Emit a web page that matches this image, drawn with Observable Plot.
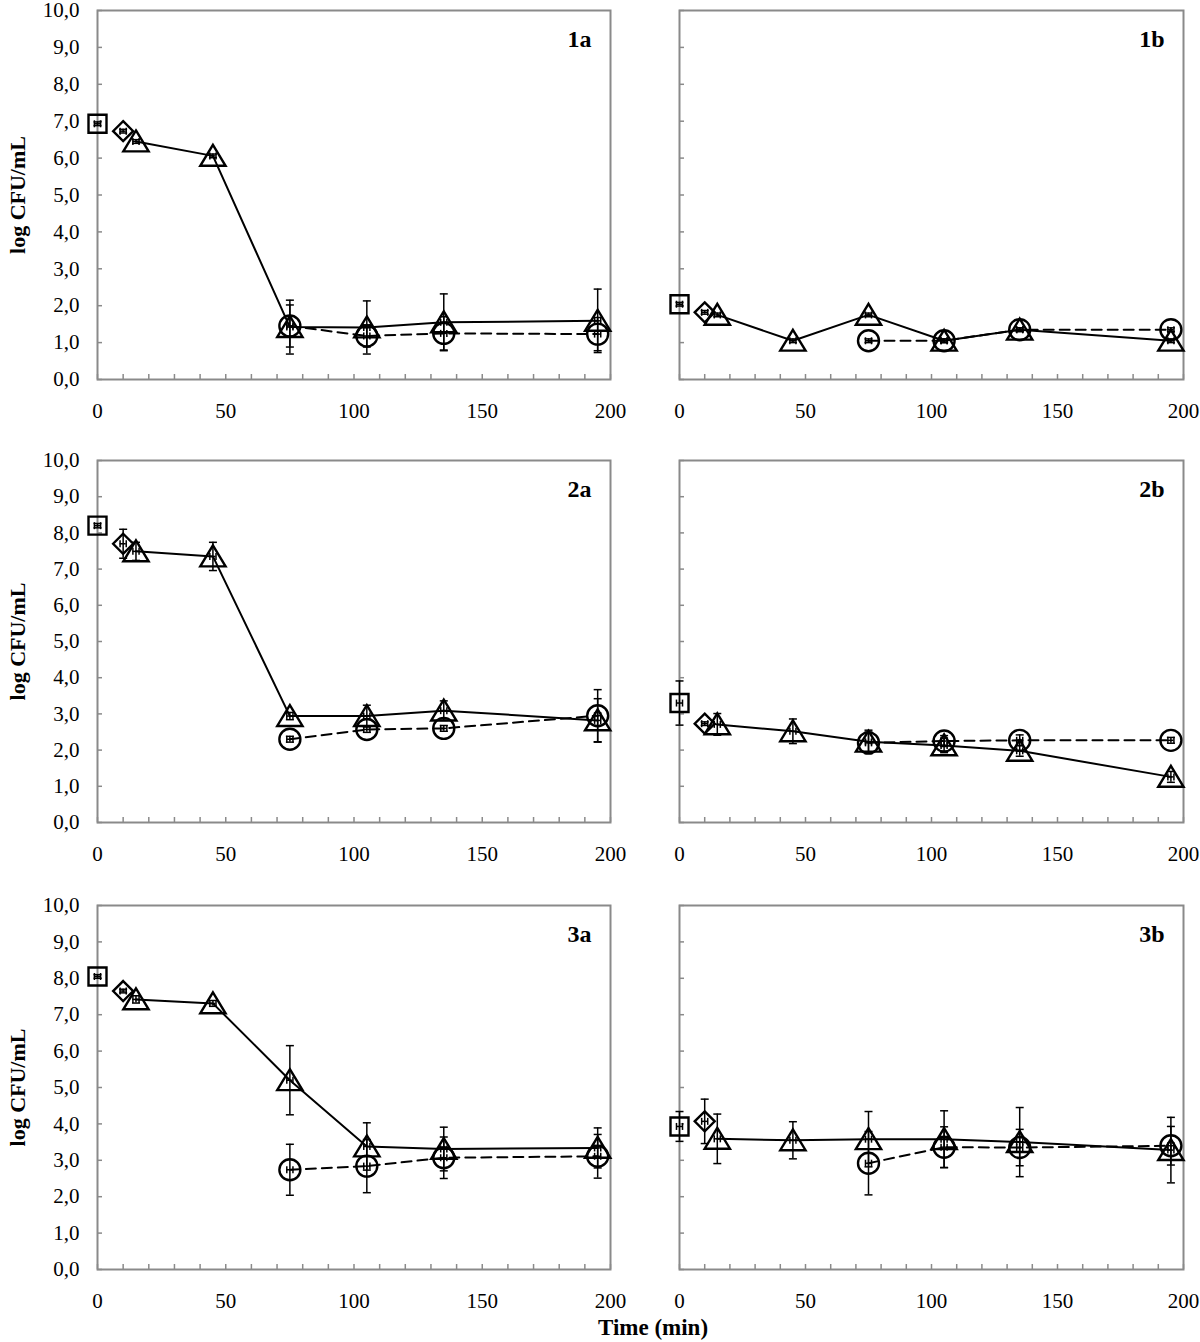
<!DOCTYPE html>
<html>
<head>
<meta charset="utf-8">
<script src="https://cdn.jsdelivr.net/npm/d3@7"></script>
<script src="https://cdn.jsdelivr.net/npm/@observablehq/plot@0.6"></script>
<style>
  html, body { margin: 0; padding: 0; background: #fff; }
  #fig { position: relative; width: 1200px; height: 1342px; font-family: "Liberation Serif", "Times New Roman", serif; }
  #fig > div.p { position: absolute; }
  #xtitle { position: absolute; left: 0; width: 1306px; top: 1314px; text-align: center; font-weight: bold; font-size: 23px; line-height: 28px; }
</style>
</head>
<body>
<div id="fig"></div>
<script>
// ---------------- data ----------------
const panelNames = ["1a", "1b", "2a", "2b", "3a", "3b"];
const yTitle = "log CFU/mL";
const xTitle = "Time (min)";
const xLabelTicks = [0, 50, 100, 150, 200];
const xMinorTicks = [0, 10, 20, 30, 40, 50, 60, 70, 80, 90, 100, 110, 120, 130, 140, 150, 160, 170, 180, 190, 200];
const yTicks = [0, 1, 2, 3, 4, 5, 6, 7, 8, 9, 10];

// square (t = 0) and diamond (t = 10) single points per panel
const squareTime = 0;
const squareY   = [6.93, 2.04, 8.20, 3.30, 8.05, 3.93];
const squareErr = [0.05, 0.05, 0.06, 0.61, 0.05, 0.41];
const diamondTime = 10;
const diamondY   = [6.73, 1.82, 7.70, 2.73, 7.65, 4.07];
const diamondErr = [0.05, 0.05, 0.40, 0.05, 0.05, 0.61];

// triangle series (solid line)
const triTimes = [15, 45, 75, 105, 135, 195];
const triY = [
  [6.45, 6.06, 1.42, 1.41, 1.55, 1.59],
  [1.75, 1.05, 1.75, 1.05, 1.35, 1.05],
  [7.49, 7.35, 2.94, 2.94, 3.09, 2.82],
  [2.71, 2.52, 2.23, 2.13, 1.98, 1.26],
  [7.42, 7.31, 5.20, 3.38, 3.31, 3.34],
  [3.59, 3.55, 3.58, 3.58, 3.50, 3.28]
];
const triErr = [
  [0.05, 0.05, 0.73, 0.72, 0.77, 0.86],
  [0.05, 0.05, 0.05, 0.05, 0.05, 0.05],
  [0.25, 0.39, 0.10, 0.30, 0.27, 0.60],
  [0.30, 0.34, 0.32, 0.20, 0.15, 0.15],
  [0.10, 0.08, 0.95, 0.65, 0.60, 0.55],
  [0.68, 0.51, 0.76, 0.78, 0.95, 0.90]
];

// circle series (dashed line)
const circTimes = [75, 105, 135, 195];
const circY = [
  [1.45, 1.18, 1.25, 1.23],
  [1.05, 1.05, 1.35, 1.35],
  [2.30, 2.57, 2.60, 2.95],
  [2.20, 2.25, 2.27, 2.27],
  [2.74, 2.84, 3.07, 3.11],
  [2.92, 3.36, 3.35, 3.40]
];
const circErr = [
  [0.57, 0.30, 0.45, 0.45],
  [0.05, 0.05, 0.05, 0.05],
  [0.08, 0.08, 0.08, 0.72],
  [0.30, 0.15, 0.15, 0.08],
  [0.70, 0.73, 0.57, 0.60],
  [0.87, 0.56, 0.50, 0.53]
];
const timeErr = 1.2; // small horizontal error bars (min)

// ---------------- layout ----------------
const gray = "#8a8a8a";
const rows = [{top: 10, h: 369}, {top: 460, h: 362}, {top: 905, h: 364}];
const cols = [{left: 0, width: 620, ml: 97, mr: 10}, {left: 640, width: 560, ml: 39, mr: 17}];

// custom marker shapes (size -> radius)
const sym = f => ({draw(c, size) { f(c, Math.sqrt(size / Math.PI)); }});
const squareSym = sym((c, r) => { c.moveTo(-r, -r); c.lineTo(r, -r); c.lineTo(r, r); c.lineTo(-r, r); c.closePath(); });
const diamondSym = sym((c, r) => { c.moveTo(0, -r); c.lineTo(r, 0); c.lineTo(0, r); c.lineTo(-r, 0); c.closePath(); });
const triSym = sym((c, r) => { c.moveTo(0, -r); c.lineTo(1.15 * r, 0.9 * r); c.lineTo(-1.15 * r, 0.9 * r); c.closePath(); });
const circSym = sym((c, r) => { c.moveTo(r, 0); c.arc(0, 0, r, 0, 2 * Math.PI); });
const hCap = sym((c, r) => { c.moveTo(-r, 0); c.lineTo(r, 0); });
const vCap = sym((c, r) => { c.moveTo(0, -r); c.lineTo(0, r); });

const fmt = d => d3.format(".1f")(d).replace(".", ",");
const fig = document.getElementById("fig");

panelNames.forEach((name, i) => {
  const row = rows[Math.floor(i / 2)];
  const col = cols[i % 2];
  const isLeft = i % 2 === 0;
  const fw = col.width - col.ml - col.mr;
  const fh = row.h;

  const sq = [{t: squareTime, y: squareY[i], e: squareErr[i]}];
  const dm = [{t: diamondTime, y: diamondY[i], e: diamondErr[i]}];
  const tri = triTimes.map((t, j) => ({t, y: triY[i][j], e: triErr[i][j]}));
  const circ = circTimes.map((t, j) => ({t, y: circY[i][j], e: circErr[i][j]}));
  const all = [...sq, ...dm, ...tri, ...circ];

  const markStyle = {stroke: "black", strokeWidth: 2.4, fill: "none"};
  const errStyle = {stroke: "black", strokeWidth: 1.5, fill: "none"};

  const marks = [
    Plot.tickY(yTicks, {y: d => d, insetRight: fw - 5, stroke: gray, strokeWidth: 1.5}),
    Plot.tickX(xMinorTicks, {x: d => d, insetTop: fh - 5, stroke: gray, strokeWidth: 1.5}),
    Plot.frame({stroke: gray, strokeWidth: 2}),
    Plot.text(xLabelTicks, {x: d => d, frameAnchor: "bottom", dy: 32, text: d => String(d), fontSize: 21, textAnchor: "middle", lineAnchor: "middle", fill: "black"}),
    Plot.line(tri, {x: "t", y: "y", stroke: "black", strokeWidth: 2}),
    Plot.line(circ, {x: "t", y: "y", stroke: "black", strokeWidth: 2, strokeDasharray: "10,6"}),
    Plot.dot(sq, {x: "t", y: "y", symbol: squareSym, r: 9, ...markStyle}),
    Plot.dot(dm, {x: "t", y: "y", symbol: diamondSym, r: 10, ...markStyle}),
    Plot.dot(circ, {x: "t", y: "y", symbol: circSym, r: 10.5, ...markStyle}),
    Plot.dot(tri, {x: "t", y: "y", symbol: triSym, r: 11, ...markStyle}),
    // vertical error bars
    Plot.ruleX(all, {x: "t", y1: d => d.y - d.e, y2: d => d.y + d.e, ...errStyle}),
    Plot.dot(all, {x: "t", y: d => d.y + d.e, symbol: hCap, r: 4, ...errStyle}),
    Plot.dot(all, {x: "t", y: d => d.y - d.e, symbol: hCap, r: 4, ...errStyle}),
    // horizontal error bars
    Plot.ruleY(all, {y: "y", x1: d => d.t - timeErr, x2: d => d.t + timeErr, ...errStyle}),
    Plot.dot(all, {x: d => d.t - timeErr, y: "y", symbol: vCap, r: 3.5, ...errStyle}),
    Plot.dot(all, {x: d => d.t + timeErr, y: "y", symbol: vCap, r: 3.5, ...errStyle}),
    Plot.text([name], {frameAnchor: "top-right", dx: -19, dy: 29, textAnchor: "end", lineAnchor: "middle", fontWeight: "bold", fontSize: 24, fill: "black"})
  ];
  if (isLeft) {
    marks.push(
      Plot.text(yTicks, {y: d => d, frameAnchor: "left", dx: -18, textAnchor: "end", lineAnchor: "middle", text: fmt, fontSize: 21, fill: "black"}),
      Plot.text([yTitle], {frameAnchor: "left", dx: -80, rotate: -90, textAnchor: "middle", lineAnchor: "middle", fontWeight: "bold", fontSize: 22, fill: "black"})
    );
  }

  const chart = Plot.plot({
    width: col.width,
    height: 10 + fh + 50,
    marginLeft: col.ml,
    marginRight: col.mr,
    marginTop: 10,
    marginBottom: 50,
    x: {domain: [0, 200], axis: null},
    y: {domain: [0, 10], axis: null},
    style: {fontFamily: "'Liberation Serif', 'Times New Roman', serif", background: "transparent", overflow: "visible"},
    marks
  });
  const div = document.createElement("div");
  div.className = "p";
  div.style.left = col.left + "px";
  div.style.top = (row.top - 10) + "px";
  div.appendChild(chart);
  fig.appendChild(div);
});

const xt = document.createElement("div");
xt.id = "xtitle";
xt.textContent = xTitle;
fig.appendChild(xt);
</script>
</body>
</html>
